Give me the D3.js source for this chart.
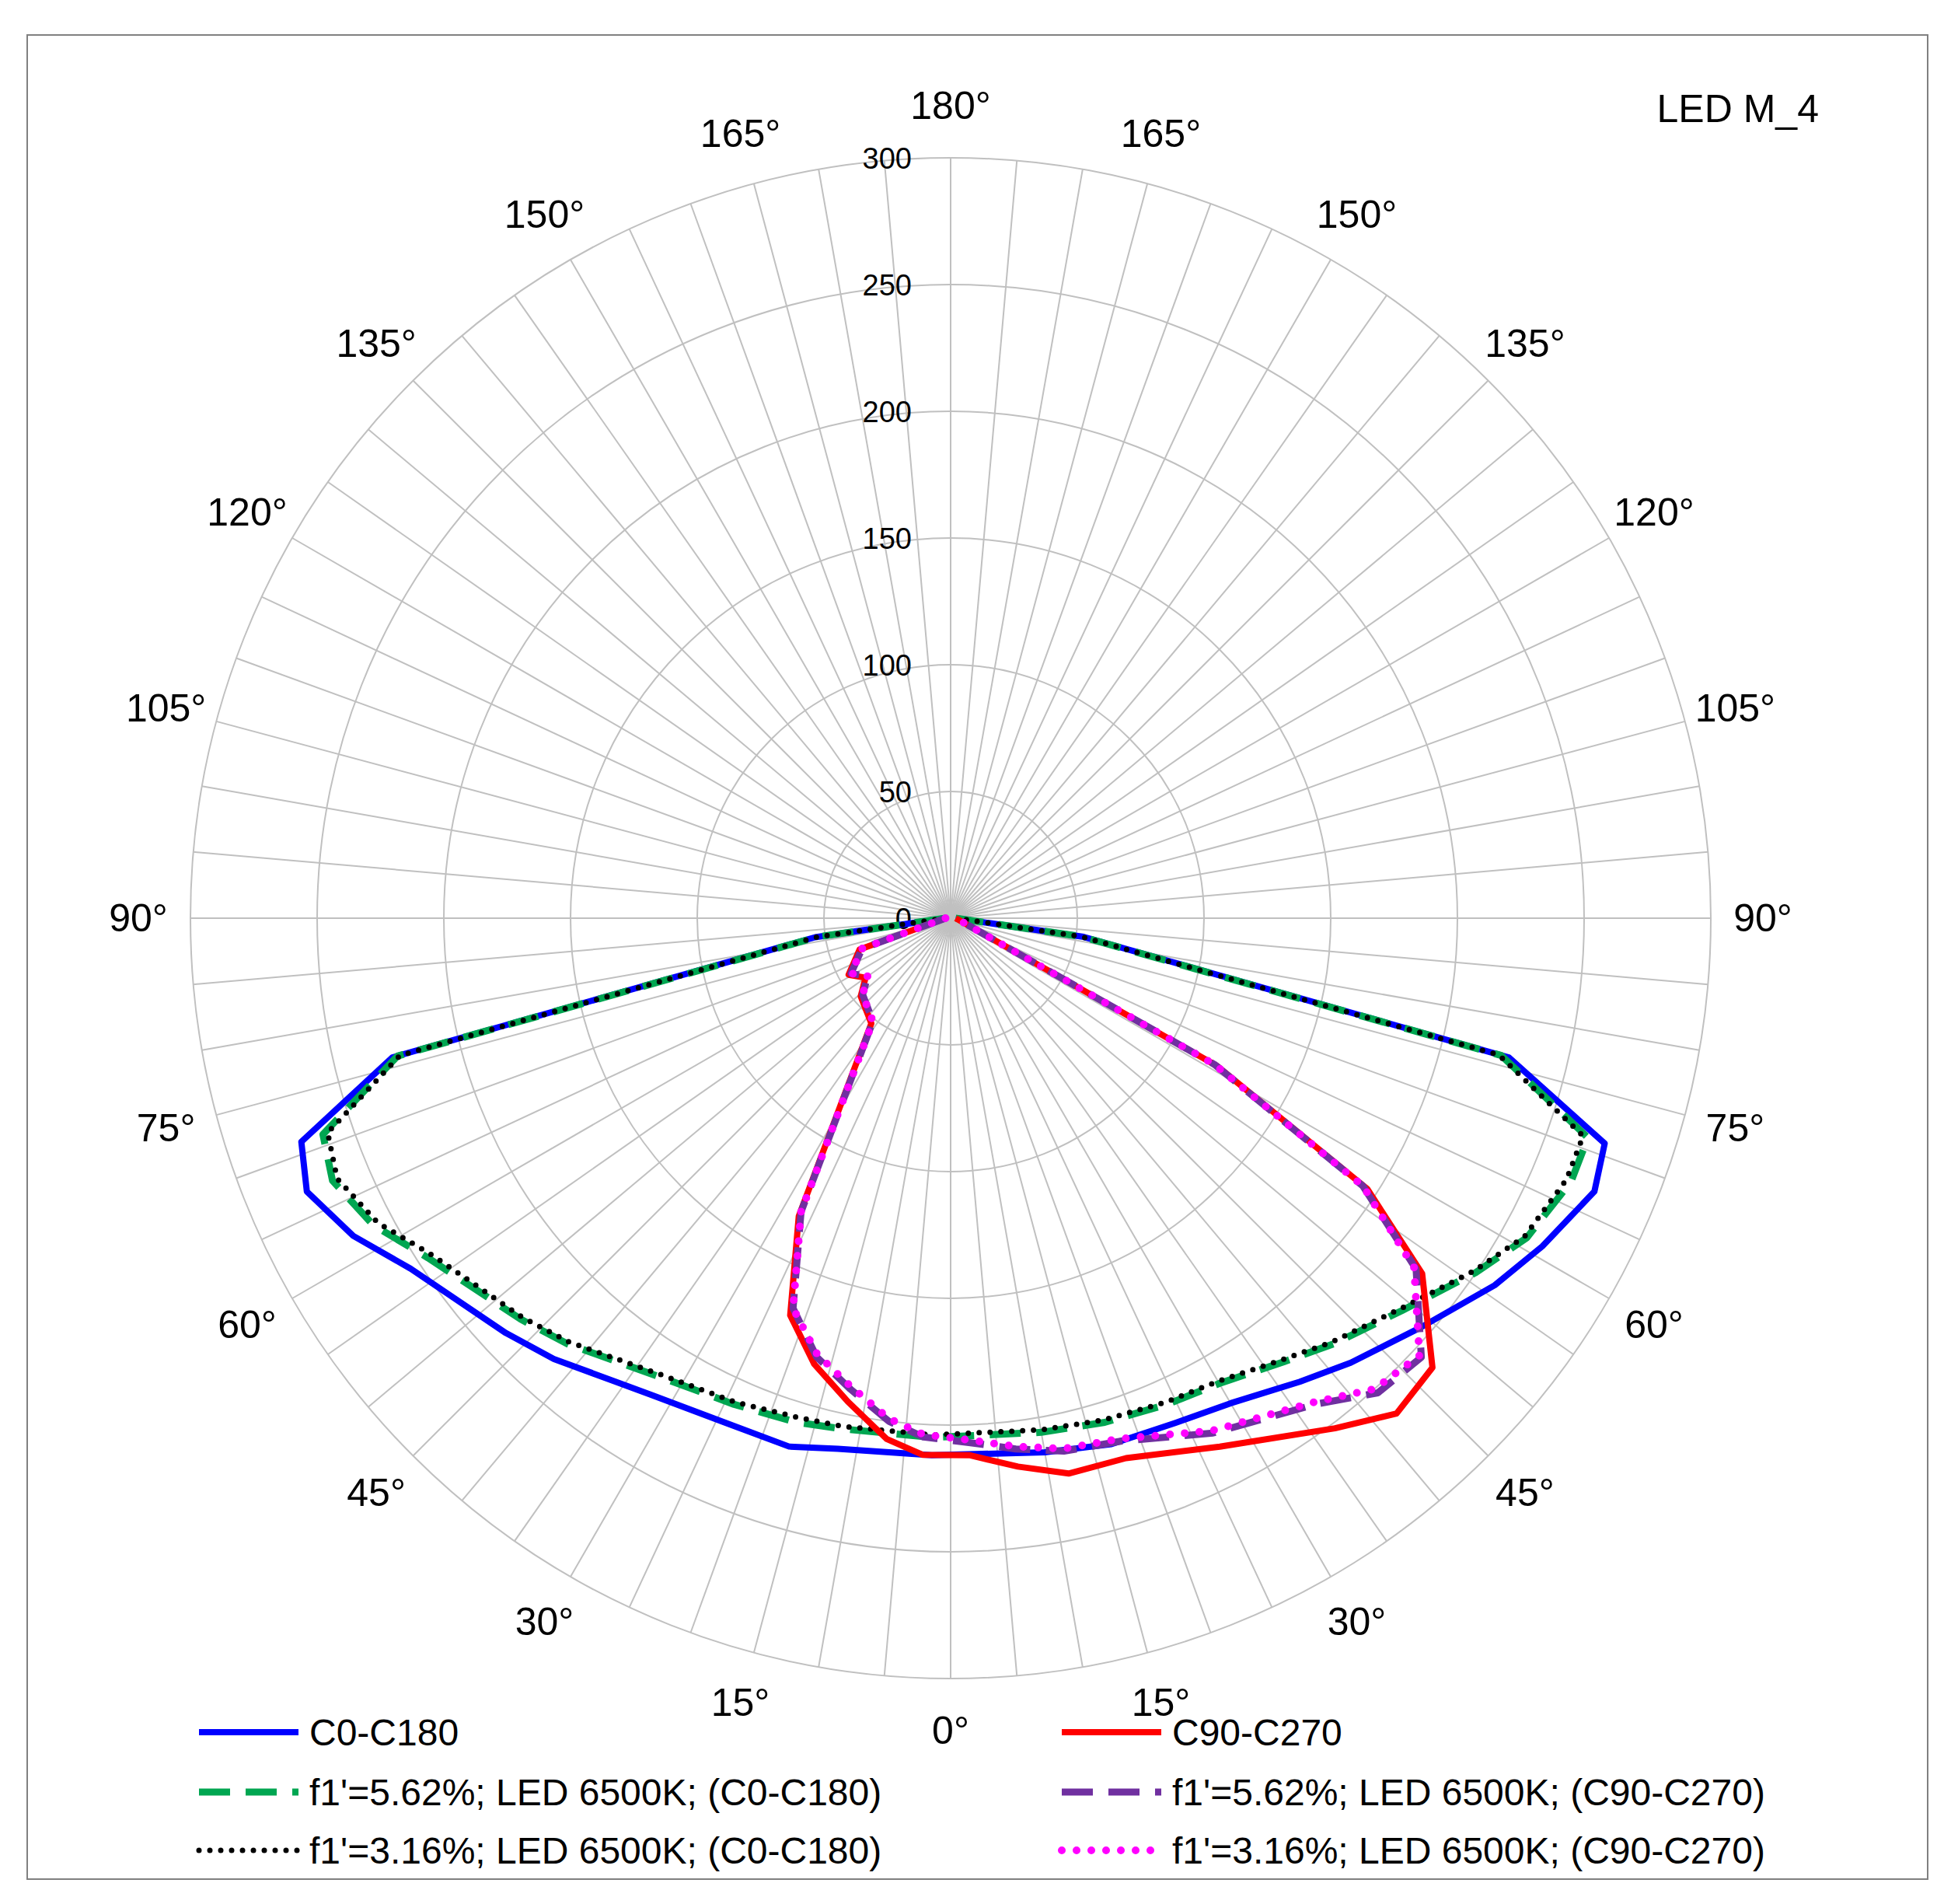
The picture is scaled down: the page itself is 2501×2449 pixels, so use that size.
<!DOCTYPE html>
<html><head><meta charset="utf-8">
<script src="https://cdn.jsdelivr.net/npm/d3@7"></script>
<style>body{margin:0;background:#fff}text{font-family:Arial,"Liberation Sans",sans-serif}</style>
</head><body>
<script>
var width = 2501, height = 2449
var cx = 1223, cy = 1181, R = 978

// signed gamma: positive = right half, 0 = straight down
var gammaC0 = [-90,-82,-76,-71,-67,-62,-57,-47,-42,-32,-24,-17,-12,-2,10,17,24,30,37,42,49,56,61,67,71,76,82,90]
var c0 = [2,54,227,271,276,267,254,240,234,222,218,218,214,212,214,217,218,221,229,236,246,259,267,276,273,227,53,2]
var c0f562 = [2,53,225,262,265,258,246,232,226,214,210,208,206,205,206,208,210,212,219,226,236,250,260,266,266,224,52,2]
var c0f316 = [2,53,224,260,263,256,244,231,225,213,209,206,205,204,205,207,209,211,218,225,235,249,259,264,264,223,52,2]

var gammaC90 = [-90,-71,-61,-55,-49,-37,-27,-22,-17,-12,-7,-3,2,7,12,18,27,37,42,47,53,57,61,90]
var c90 = [2,38,46,41,47,52,132,169,184,195,207,212,212,218,224,224,234,252,263,260,233,196,120,2]
var c90f562 = [2,37,45,40,46,51,130,166,181,190,200,205,207,211,215,217,228,240,252,254,230,194,119,2]
var c90f316 = [2,37,45,40,46,51,130,166,180,189,199,204,206,210,214,216,227,239,250,253,229,194,119,2]

var rTicks = [0,50,100,150,200,250,300]
var angleLabels = [0,15,30,45,60,75,90,105,120,135,150,165,180]

var series = [
  {name:'C0-C180', g:gammaC0, v:c0, color:'#0000ff', w:8, dash:null, cap:'butt'},
  {name:"f1'=5.62%; LED 6500K; (C0-C180)", g:gammaC0, v:c0f562, color:'#00a651', w:9, dash:'40 20', cap:'butt'},
  {name:"f1'=3.16%; LED 6500K; (C0-C180)", g:gammaC0, v:c0f316, color:'#000000', w:7, dash:'0 14', cap:'round'},
  {name:'C90-C270', g:gammaC90, v:c90, color:'#ff0000', w:8, dash:null, cap:'butt'},
  {name:"f1'=5.62%; LED 6500K; (C90-C270)", g:gammaC90, v:c90f562, color:'#7030a0', w:9, dash:'40 20', cap:'butt'},
  {name:"f1'=3.16%; LED 6500K; (C90-C270)", g:gammaC90, v:c90f316, color:'#ff00ff', w:10, dash:'0 19', cap:'round'}
]

var r = d3.scaleLinear().domain([0,300]).range([0,R])
var rad = d => d * Math.PI / 180

var svg = d3.select('body').append('svg').attr('width', width).attr('height', height)
svg.append('rect').attr('x',35).attr('y',45).attr('width',2445).attr('height',2372)
  .attr('fill','none').attr('stroke','#808080').attr('stroke-width',2)

var g = svg.append('g').attr('transform', `translate(${cx},${cy})`)

g.selectAll('circle.grid').data(rTicks.slice(1)).join('circle')
  .attr('r', d => r(d)).attr('fill','none').attr('stroke','#c0c0c0').attr('stroke-width',2)

g.selectAll('line.spoke').data(d3.range(0,360,5)).join('line')
  .attr('x2', d => R*Math.sin(rad(d))).attr('y2', d => R*Math.cos(rad(d)))
  .attr('stroke','#c0c0c0').attr('stroke-width',2)

g.selectAll('text.rt').data(rTicks).join('text')
  .attr('x', -50).attr('y', d => -r(d) + 14).attr('text-anchor','end')
  .attr('font-size',38).text(d => d)

var labs = []
angleLabels.forEach(a => { labs.push(a); if (a > 0 && a < 180) labs.push(-a) })
var rl = 1045
g.selectAll('text.al').data(labs).join('text')
  .attr('x', d => rl*Math.sin(rad(d))).attr('y', d => rl*Math.cos(rad(d)))
  .attr('text-anchor','middle').attr('dominant-baseline','central')
  .attr('font-size',50).text(d => Math.abs(d) + '°')

var line = d3.lineRadial().angle(d => Math.PI - rad(d[0])).radius(d => r(d[1]))
g.selectAll('path.s').data(series).join('path')
  .attr('d', s => line(s.g.map((a,i) => [a, s.v[i]])))
  .attr('fill','none').attr('stroke', s => s.color).attr('stroke-width', s => s.w)
  .attr('stroke-dasharray', s => s.dash).attr('stroke-linecap', s => s.cap)
  .attr('stroke-linejoin','round')

svg.append('text').attr('x',2340).attr('y',157).attr('text-anchor','end')
  .attr('font-size',50).text('LED M_4')

var leg = svg.selectAll('g.leg').data(series).join('g')
  .attr('transform', (s,i) => `translate(${i < 3 ? 256 : 1366},${[2228,2305,2380][i%3]})`)
leg.append('line').attr('x2',128)
  .attr('stroke', s => s.color).attr('stroke-width', s => s.w)
  .attr('stroke-dasharray', s => s.dash).attr('stroke-linecap', s => s.cap)
leg.append('text').attr('x',142).attr('dominant-baseline','central')
  .attr('font-size',48).text(s => s.name)
</script>
</body></html>
